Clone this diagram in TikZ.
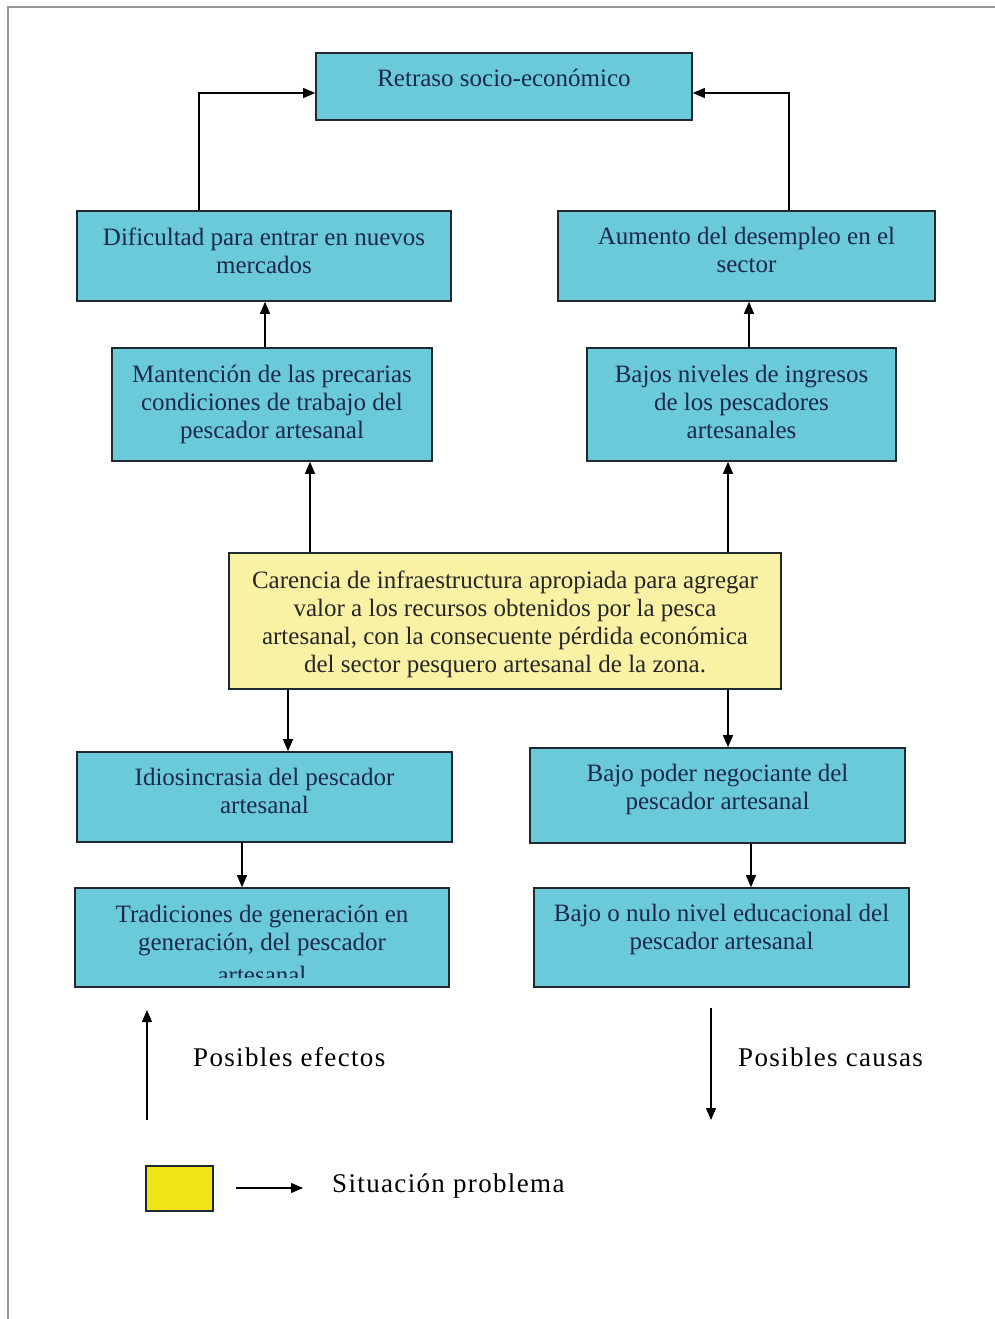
\documentclass[tikz,border=0pt]{standalone}
\usepackage{fontspec}
\setmainfont{Liberation Serif}
\newfontfamily\legendfont{Liberation Serif}[LetterSpace=5]
\usetikzlibrary{arrows.meta}

\definecolor{boxcyan}{RGB}{106,202,218}
\definecolor{boxline}{RGB}{30,42,48}
\definecolor{cyantext}{RGB}{28,40,72}
\definecolor{probfill}{RGB}{249,242,165}
\definecolor{legendyellow}{RGB}{240,228,22}
\definecolor{framegray}{RGB}{150,150,156}

\tikzset{
  cbox/.style={draw=boxline, line width=1.6pt, fill=boxcyan, inner sep=0pt},
  ybox/.style={draw=boxline, line width=1.6pt, fill=probfill, inner sep=0pt},
  btext/.style={font=\fontsize{25}{28}\selectfont, align=center, inner sep=0pt,
                text=cyantext, anchor=north},
  ytext/.style={btext, text=black!85},
  legtext/.style={font=\legendfont\fontsize{27}{30}\selectfont, inner sep=0pt, anchor=west, text=black},
  link/.style={line width=1.2pt, -{Triangle[length=12pt,width=10pt]}},
}

\begin{document}
\begin{tikzpicture}[x=1pt,y=-1pt]
\useasboundingbox (0,0) rectangle (995,1319);

% page frame (top and left edges)
\draw[framegray, line width=2.5pt] (8,1319) -- (8,7) -- (995,7);

% boxes
\node[cbox, minimum width=376pt, minimum height=67pt] (ret) at (504,86.5) {};
\node[cbox, minimum width=374pt, minimum height=90pt] (dif) at (264,256) {};
\node[cbox, minimum width=377pt, minimum height=90pt] (aum) at (746.5,256) {};
\node[cbox, minimum width=320pt, minimum height=113pt] (man) at (272,404.5) {};
\node[cbox, minimum width=309pt, minimum height=113pt] (baj) at (741.5,404.5) {};
\node[ybox, minimum width=552pt, minimum height=136pt] (car) at (505,621) {};
\node[cbox, minimum width=375pt, minimum height=90pt] (idi) at (264.5,797) {};
\node[cbox, minimum width=375pt, minimum height=95pt] (pod) at (717.5,795.5) {};
\node[cbox, minimum width=374pt, minimum height=99pt] (tra) at (262,937.5) {};
\node[cbox, minimum width=375pt, minimum height=99pt] (edu) at (721.5,937.5) {};

% box texts
\node[btext] (rett) at ([yshift=-17pt]ret.north) {Retraso socio-económico};
\node[btext] (dift) at ([yshift=-17pt]dif.north) {Dificultad para entrar en nuevos\\mercados};
\node[btext] (aumt) at ([yshift=-17pt]aum.north) {Aumento del desempleo en el\\sector};
\node[btext] (mant) at ([yshift=-18pt]man.north) {Mantención de las precarias\\condiciones de trabajo del\\pescador artesanal};
\node[btext] (bajt) at ([yshift=-18pt]baj.north) {Bajos niveles de ingresos\\de los pescadores\\artesanales};
\node[ytext] (cart) at ([yshift=-18pt]car.north) {Carencia de infraestructura apropiada para agregar\\valor a los recursos obtenidos por la pesca\\artesanal, con la consecuente pérdida económica\\del sector pesquero artesanal de la zona.};
\node[btext] (idit) at ([yshift=-17pt]idi.north) {Idiosincrasia del pescador\\artesanal};
\node[btext] (podt) at ([yshift=-17pt]pod.north) {Bajo poder negociante del\\pescador artesanal};
\node[btext] (trat) at ([yshift=-18pt]tra.north) {Tradiciones de generación en\\generación, del pescador};
% last line of this box is cut off by the box's text area
\begin{scope}
  \clip (75,888) rectangle (449,977);
  \node[btext, anchor=base] (tral) at ([yshift=-96pt]tra.north) {artesanal};
\end{scope}
\node[btext] (edut) at ([yshift=-17pt]edu.north) {Bajo o nulo nivel educacional del\\pescador artesanal};

% connectors
\draw[link] ([xshift=-65pt]dif.north) |- ([yshift=-6.5pt]ret.west);
\draw[link] ([xshift=42.5pt]aum.north) |- ([yshift=-6.5pt]ret.east);
\draw[link] ([xshift=-7pt]man.north) -- ([xshift=-7pt]man.north |- dif.south);
\draw[link] ([xshift=7.5pt]baj.north) -- ([xshift=7.5pt]baj.north |- aum.south);
\draw[link] ([xshift=38pt]man.south |- car.north) -- ([xshift=38pt]man.south);
\draw[link] ([xshift=-13.5pt]baj.south |- car.north) -- ([xshift=-13.5pt]baj.south);
\draw[link] ([xshift=23.5pt]idi.north |- car.south) -- ([xshift=23.5pt]idi.north);
\draw[link] ([xshift=10.5pt]pod.north |- car.south) -- ([xshift=10.5pt]pod.north);
\draw[link] ([xshift=-20pt]tra.north |- idi.south) -- ([xshift=-20pt]tra.north);
\draw[link] ([xshift=29.5pt]edu.north |- pod.south) -- ([xshift=29.5pt]edu.north);

% direction legend
\coordinate (ef0) at (147,1120);
\coordinate (ef1) at (147,1010);
\draw[link] (ef0) -- (ef1);
\node[legtext] (efl) at (193,1057) {Posibles efectos};
\coordinate (ca0) at (711,1008);
\coordinate (ca1) at (711,1120);
\draw[link] (ca0) -- (ca1);
\node[legtext] (cal) at (738,1057) {Posibles causas};

% colour legend
\node[draw=boxline, line width=1.6pt, fill=legendyellow, minimum width=67pt, minimum height=45pt, inner sep=0pt] (leg) at (179.5,1188.5) {};
\coordinate (lg0) at (236,1188);
\coordinate (lg1) at (303,1188);
\draw[link] (lg0) -- (lg1);
\node[legtext] (legt) at (332,1186) {Situación problema};
\end{tikzpicture}
\end{document}
